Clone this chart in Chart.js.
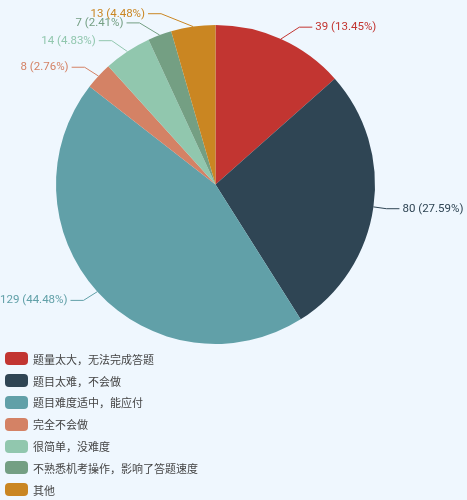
<!DOCTYPE html>
<html>
<head>
<meta charset="utf-8">
<script src="https://cdn.jsdelivr.net/npm/chart.js@4/dist/chart.umd.min.js"></script>
<style>
  html, body { margin: 0; padding: 0; background: #eff7fe; }
  #wrap { position: relative; width: 467px; height: 500px; background: #eff7fe; }
  #myChart { position: absolute; left: 0; top: 0; }
  #legend { position: absolute; left: 5px; top: 348px; margin: 0; padding: 0; list-style: none;
            font: 11px "Noto Sans CJK SC", "Noto Sans", sans-serif; color: #444; }
  #legend li { height: 21.8px; display: flex; align-items: center; }
  #legend span { display: inline-block; width: 23px; height: 13px; border-radius: 4px; margin-right: 5px; }
</style>
</head>
<body>
<div id="wrap">
  <canvas id="myChart" width="467" height="500"></canvas>
  <ul id="legend"></ul>
</div>
<script>
const labels = ['题量太大，无法完成答题', '题目太难，不会做', '题目难度适中，能应付', '完全不会做', '很简单，没难度', '不熟悉机考操作，影响了答题速度', '其他'];
const values = [39, 80, 129, 8, 14, 7, 13];
const colors = ['#c23531', '#2f4554', '#61a0a8', '#d48265', '#91c7ae', '#749f83', '#ca8622'];

const total = values.reduce((acc, v) => acc + v, 0);

// outside labels with a bent leader line, placed roughly the way echarts does it
const outsideLabels = {
    id: 'outsideLabels',
    afterDatasetsDraw(chart) {
        const ctx = chart.ctx;
        const meta = chart.getDatasetMeta(0);
        const len1 = 13, len2 = 13, rB = 180;
        ctx.save();
        ctx.font = '11.5px Roboto, "Noto Sans", sans-serif';
        ctx.textBaseline = 'middle';
        ctx.lineWidth = 1;
        meta.data.forEach((arc, i) => {
            const p = arc.getProps(['x', 'y', 'startAngle', 'endAngle', 'outerRadius'], true);
            const mid = (p.startAngle + p.endAngle) / 2;
            const dx = Math.cos(mid), dy = Math.sin(mid);
            const side = dx < 0 ? -1 : 1;
            const x1 = p.x + p.outerRadius * dx;
            const y1 = p.y + p.outerRadius * dy;
            const rA = p.outerRadius + len1;
            const y2 = p.y + rA * dy;
            const k = Math.max(0, 1 - Math.pow((y2 - p.y) / rB, 2));
            const x2 = p.x + side * rA * Math.sqrt(k);
            const x3 = x2 + side * len2;

            ctx.strokeStyle = colors[i];
            ctx.beginPath();
            ctx.moveTo(x1, y1);
            ctx.lineTo(x2, y2);
            ctx.lineTo(x3, y2);
            ctx.stroke();

            const pct = (values[i] / total * 100).toFixed(2);
            ctx.fillStyle = colors[i];
            ctx.textAlign = side < 0 ? 'right' : 'left';
            ctx.fillText(`${values[i]} (${pct}%)`, x3 + side * 3, y2);
        });
        ctx.restore();
    }
};

const ctx = document.getElementById('myChart').getContext('2d');
const myChart = new Chart(ctx, {
    type: 'pie',
    data: {
        labels: labels,
        datasets: [{
            data: values,
            backgroundColor: colors,
            borderWidth: 0
        }]
    },
    options: {
        responsive: false,
        animation: false,
        layout: { padding: { top: 25, bottom: 156, left: 0, right: 36 } },
        plugins: {
            legend: { display: false },
            tooltip: { enabled: false }
        }
    },
    plugins: [outsideLabels]
});

const legend = document.getElementById('legend');
labels.forEach((name, i) => {
    const item = document.createElement('li');
    item.innerHTML = `<span style="background:${colors[i]}"></span>${name}`;
    legend.appendChild(item);
});
</script>
</body>
</html>
